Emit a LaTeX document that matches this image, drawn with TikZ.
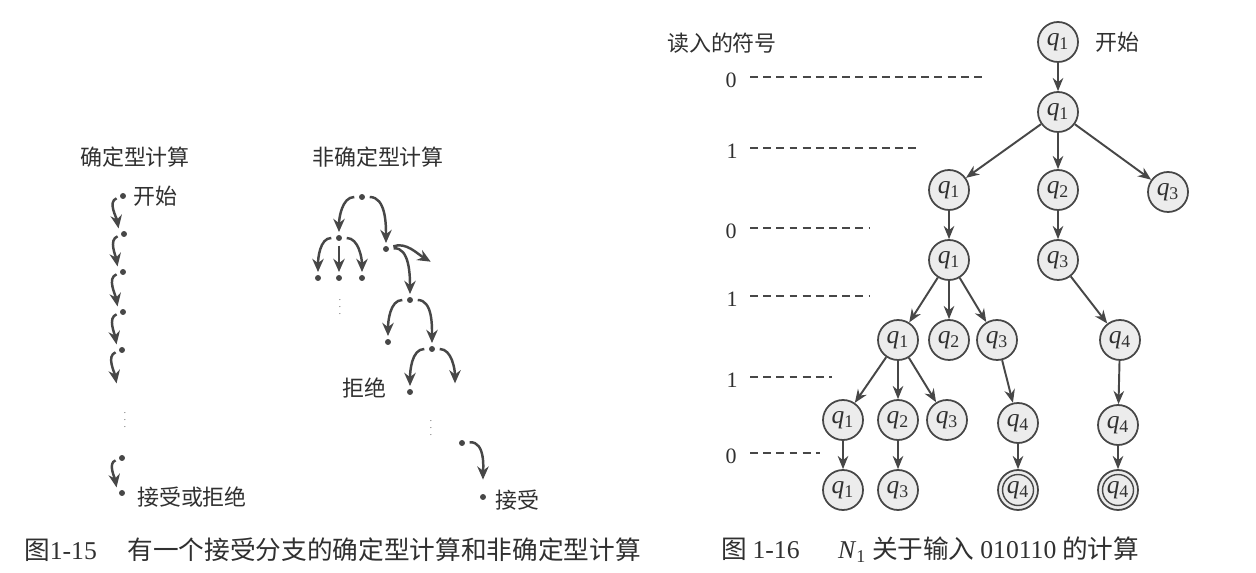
\documentclass[tikz,border=0pt]{standalone}
\usepackage{fontspec}
\setmainfont{Liberation Serif}
\newfontfamily\cjk{Noto Sans CJK SC}
\usetikzlibrary{arrows.meta}

\definecolor{ink}{HTML}{474747}
\definecolor{txt}{HTML}{303030}
\definecolor{nodefill}{HTML}{ECECEC}

\tikzset{
	dotpt/.style={circle, fill=ink, inner sep=0pt, minimum size=3.4pt},
	curvearr/.style={draw=ink, line width=1.4pt, -{Stealth[length=7.5pt,width=6.5pt]}, shorten <=2.5pt, shorten >=1.5pt},
	state/.style={circle, draw=ink, fill=nodefill, line width=1pt, minimum size=0.8cm, inner sep=0pt, font=\fontsize{14.5}{14.5}\selectfont, text=txt},
	treearr/.style={draw=ink, line width=1.1pt, -{Stealth[length=7.5pt,width=6pt]}},
	levelline/.style={draw=ink, line width=0.7pt, dash pattern=on 4.5pt off 3pt},
	lab/.style={font=\cjk\fontsize{12.5}{14}\selectfont, text=txt},
	digit/.style={font=\fontsize{12.5}{12.5}\selectfont, text=txt},
	captext/.style={font=\cjk\fontsize{14.6}{16}\selectfont, text=txt, anchor=west}
}

\newcommand{\qn}[1]{\textit{q}\textsubscript{#1}}

\begin{document}
\begin{tikzpicture}[x=0.02cm, y=0.02cm]
	\useasboundingbox (0,0) rectangle (1256,-573);
	\fill[white] (0,0) rectangle (1256,-573);

	% Deterministische Berechnung (links)
	\node[lab] (dtitle) at (135,-157) {确定型计算};
	\node[dotpt] (d1) at (123,-196) {};
	\node[dotpt] (d2) at (124,-234) {};
	\node[dotpt] (d3) at (123,-272) {};
	\node[dotpt] (d4) at (123,-312) {};
	\node[dotpt] (d5) at (122,-350) {};
	\coordinate (d5e) at (117,-386);
	\node[font=\tiny, text=ink, inner sep=0pt] (dvdots) at (125,-415) {$\vdots$};
	\node[dotpt] (d6) at (122,-458) {};
	\node[dotpt] (d7) at (122,-493) {};
	\node[lab] (dstart) at (155,-196) {开始};
	\node[lab] (dend) at (192,-497) {接受或拒绝};

	\draw[curvearr, shorten <=2pt] (d1) to[out=200,in=100] ([shift={(-5,3)}]d2.center);
	\draw[curvearr, shorten <=2pt] (d2) to[out=200,in=100] ([shift={(-5,3)}]d3.center);
	\draw[curvearr, shorten <=2pt] (d3) to[out=200,in=100] ([shift={(-5,3)}]d4.center);
	\draw[curvearr, shorten <=2pt] (d4) to[out=200,in=100] ([shift={(-5,3)}]d5.center);
	\draw[curvearr, shorten <=2pt] (d5) to[out=200,in=100] (d5e);
	\draw[curvearr, shorten <=2pt] (d6) to[out=200,in=100] ([shift={(-5,3)}]d7.center);

	% Nichtdeterministische Berechnung (Mitte)
	\node[lab] (ntitle) at (378,-157) {非确定型计算};
	\node[dotpt] (r) at (362,-197) {};
	\node[dotpt] (a) at (339,-238) {};
	\node[dotpt] (b) at (386,-249) {};
	\node[dotpt] (a1) at (318,-278) {};
	\node[dotpt] (a2) at (339,-278) {};
	\node[dotpt] (a3) at (362,-278) {};
	\node[font=\tiny, text=ink, inner sep=0pt] (avdots) at (340,-302) {$\vdots$};
	\coordinate (bx) at (433,-263);
	\node[dotpt] (c) at (410,-300) {};
	\node[dotpt] (dd) at (388,-342) {};
	\node[dotpt] (e) at (432,-349) {};
	\node[dotpt] (f) at (410,-392) {};
	\coordinate (ex) at (455,-386);
	\node[font=\tiny, text=ink, inner sep=0pt] (evdots) at (431,-423) {$\vdots$};
	\node[dotpt] (g) at (462,-443) {};
	\node[dotpt] (h) at (483,-497) {};
	\node[lab] (reject) at (364,-388) {拒绝};
	\node[lab] (accept) at (517,-500) {接受};

	\draw[curvearr] (r) to[out=180,in=90] (a);
	\draw[curvearr] (r) to[out=0,in=90] (b);
	\draw[curvearr] (a) to[out=180,in=90] (a1);
	\draw[curvearr] (a) to[out=-90,in=90] (a2);
	\draw[curvearr] (a) to[out=0,in=90] (a3);
	\draw[curvearr] (b) to[out=20,in=150] (bx);
	\draw[curvearr] (b) to[out=5,in=90] (c);
	\draw[curvearr] (c) to[out=180,in=90] (dd);
	\draw[curvearr] (c) to[out=0,in=90] (e);
	\draw[curvearr] (e) to[out=180,in=90] (f);
	\draw[curvearr] (e) to[out=0,in=90] (ex);
	\draw[curvearr, shorten >=8pt] (g) to[out=5,in=90] (h);

	% Berechnungsbaum von N1 (rechts)
	\node[lab] (rtitle) at (722,-43) {读入的符号};
	\node[digit] (l0) at (731,-80) {0};
	\node[digit] (l1) at (732,-151) {1};
	\node[digit] (l2) at (731,-231) {0};
	\node[digit] (l3) at (732,-299) {1};
	\node[digit] (l4) at (732,-380) {1};
	\node[digit] (l5) at (731,-456) {0};
	\draw[levelline] (750,-77) -- (985,-77);
	\draw[levelline] (750,-148) -- (917,-148);
	\draw[levelline] (750,-228) -- (870,-228);
	\draw[levelline] (750,-296) -- (870,-296);
	\draw[levelline] (750,-377) -- (832,-377);
	\draw[levelline] (750,-453) -- (820,-453);

	\node[state] (s0) at (1058,-42) {\qn{1}};
	\node[lab] (rstart) at (1117,-42) {开始};
	\node[state] (s1) at (1058,-112) {\qn{1}};
	\node[state] (s2a) at (949,-190) {\qn{1}};
	\node[state] (s2b) at (1058,-190) {\qn{2}};
	\node[state] (s2c) at (1168,-192) {\qn{3}};
	\node[state] (s3a) at (949,-260) {\qn{1}};
	\node[state] (s3b) at (1058,-260) {\qn{3}};
	\node[state] (s4a) at (898,-340) {\qn{1}};
	\node[state] (s4b) at (949,-340) {\qn{2}};
	\node[state] (s4c) at (997,-340) {\qn{3}};
	\node[state] (s4d) at (1120,-340) {\qn{4}};
	\node[state] (s5a) at (843,-420) {\qn{1}};
	\node[state] (s5b) at (898,-420) {\qn{2}};
	\node[state] (s5c) at (947,-420) {\qn{3}};
	\node[state] (s5d) at (1018,-423) {\qn{4}};
	\node[state] (s5e) at (1118,-425) {\qn{4}};
	\node[state] (s6a) at (843,-490) {\qn{1}};
	\node[state] (s6b) at (898,-490) {\qn{3}};
	\node[state] (s6c) at (1018,-490) {\qn{4}};
	\node[state] (s6d) at (1118,-490) {\qn{4}};
	% Akzeptierende Zustaende
	\draw[ink, line width=0.8pt] (s6c.center) circle (0.31cm);
	\draw[ink, line width=0.8pt] (s6d.center) circle (0.31cm);

	\draw[treearr] (s0) -- (s1);
	\draw[treearr] (s1) -- (s2a);
	\draw[treearr] (s1) -- (s2b);
	\draw[treearr] (s1) -- (s2c);
	\draw[treearr] (s2a) -- (s3a);
	\draw[treearr] (s2b) -- (s3b);
	\draw[treearr] (s3a) -- (s4a);
	\draw[treearr] (s3a) -- (s4b);
	\draw[treearr] (s3a) -- (s4c);
	\draw[treearr] (s3b) -- (s4d);
	\draw[treearr] (s4a) -- (s5a);
	\draw[treearr] (s4a) -- (s5b);
	\draw[treearr] (s4a) -- (s5c);
	\draw[treearr] (s4c) -- (s5d);
	\draw[treearr] (s4d) -- (s5e);
	\draw[treearr] (s5a) -- (s6a);
	\draw[treearr] (s5b) -- (s6b);
	\draw[treearr] (s5d) -- (s6c);
	\draw[treearr] (s5e) -- (s6d);

	% Bildunterschriften
	\node[captext] (cap1) at (18,-550) {图{\rmfamily 1-15}\hspace{1.2em}有一个接受分支的确定型计算和非确定型计算};
	\node[captext] (cap2) at (715,-550) {图 {\rmfamily 1-16}\hspace{1.5em}{\rmfamily\textit{N}\textsubscript{1}} 关于输入 {\rmfamily 010110} 的计算};
\end{tikzpicture}
\end{document}
